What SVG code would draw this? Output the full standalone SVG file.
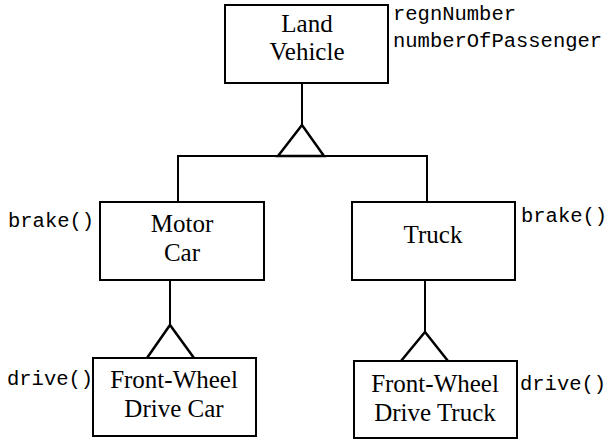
<svg xmlns="http://www.w3.org/2000/svg" width="609" height="440" viewBox="0 0 609 440">
<style>
.box{fill:#fff;stroke:#000;stroke-width:2}
.lbl{font-family:"Liberation Serif",serif;font-size:25px;text-anchor:middle;fill:#000}
.attr{font-family:"Liberation Mono",monospace;font-size:20.5px;fill:#000}
.ln{fill:none;stroke:#000;stroke-width:2}
.tri{fill:#fff;stroke:#000;stroke-width:2.5;stroke-linejoin:miter}
</style>
<rect width="609" height="440" fill="#fff"/>
<g id="connectors">
<line class="ln" x1="302" y1="83" x2="302" y2="125"/>
<polyline class="ln" points="178,202 178,156 427,156 427,202"/>
<polygon class="tri" points="302,125 278,156 324,156"/>
<line class="ln" x1="170" y1="280" x2="170" y2="325"/>
<polyline class="tri" points="147,358 170,325 194,358"/>
<line class="ln" x1="425" y1="280" x2="425" y2="332"/>
<polyline class="tri" points="401,361 425,332 448,361"/>
</g>
<g id="land-vehicle">
<rect class="box" x="225" y="5" width="163" height="78"/>
<text class="lbl" x="307" y="32">Land</text>
<text class="lbl" x="307" y="60">Vehicle</text>
<text class="attr" x="393" y="20">regnNumber</text>
<text class="attr" x="393" y="47">numberOfPassenger</text>
</g>
<g id="motor-car">
<rect class="box" x="100" y="202" width="164" height="78"/>
<text class="lbl" x="182" y="232">Motor</text>
<text class="lbl" x="182" y="261">Car</text>
<text class="attr" x="8" y="227">brake()</text>
</g>
<g id="truck">
<rect class="box" x="352" y="202" width="163" height="78"/>
<text class="lbl" x="433" y="243">Truck</text>
<text class="attr" x="521" y="222">brake()</text>
</g>
<g id="fwd-car">
<rect class="box" x="93" y="358" width="163" height="78"/>
<text class="lbl" x="174" y="388">Front-Wheel</text>
<text class="lbl" x="174" y="417">Drive Car</text>
<text class="attr" x="7" y="385">drive()</text>
</g>
<g id="fwd-truck">
<rect class="box" x="354" y="361" width="163" height="77"/>
<text class="lbl" x="435" y="392">Front-Wheel</text>
<text class="lbl" x="435" y="421">Drive Truck</text>
<text class="attr" x="520" y="390">drive()</text>
</g>
</svg>
